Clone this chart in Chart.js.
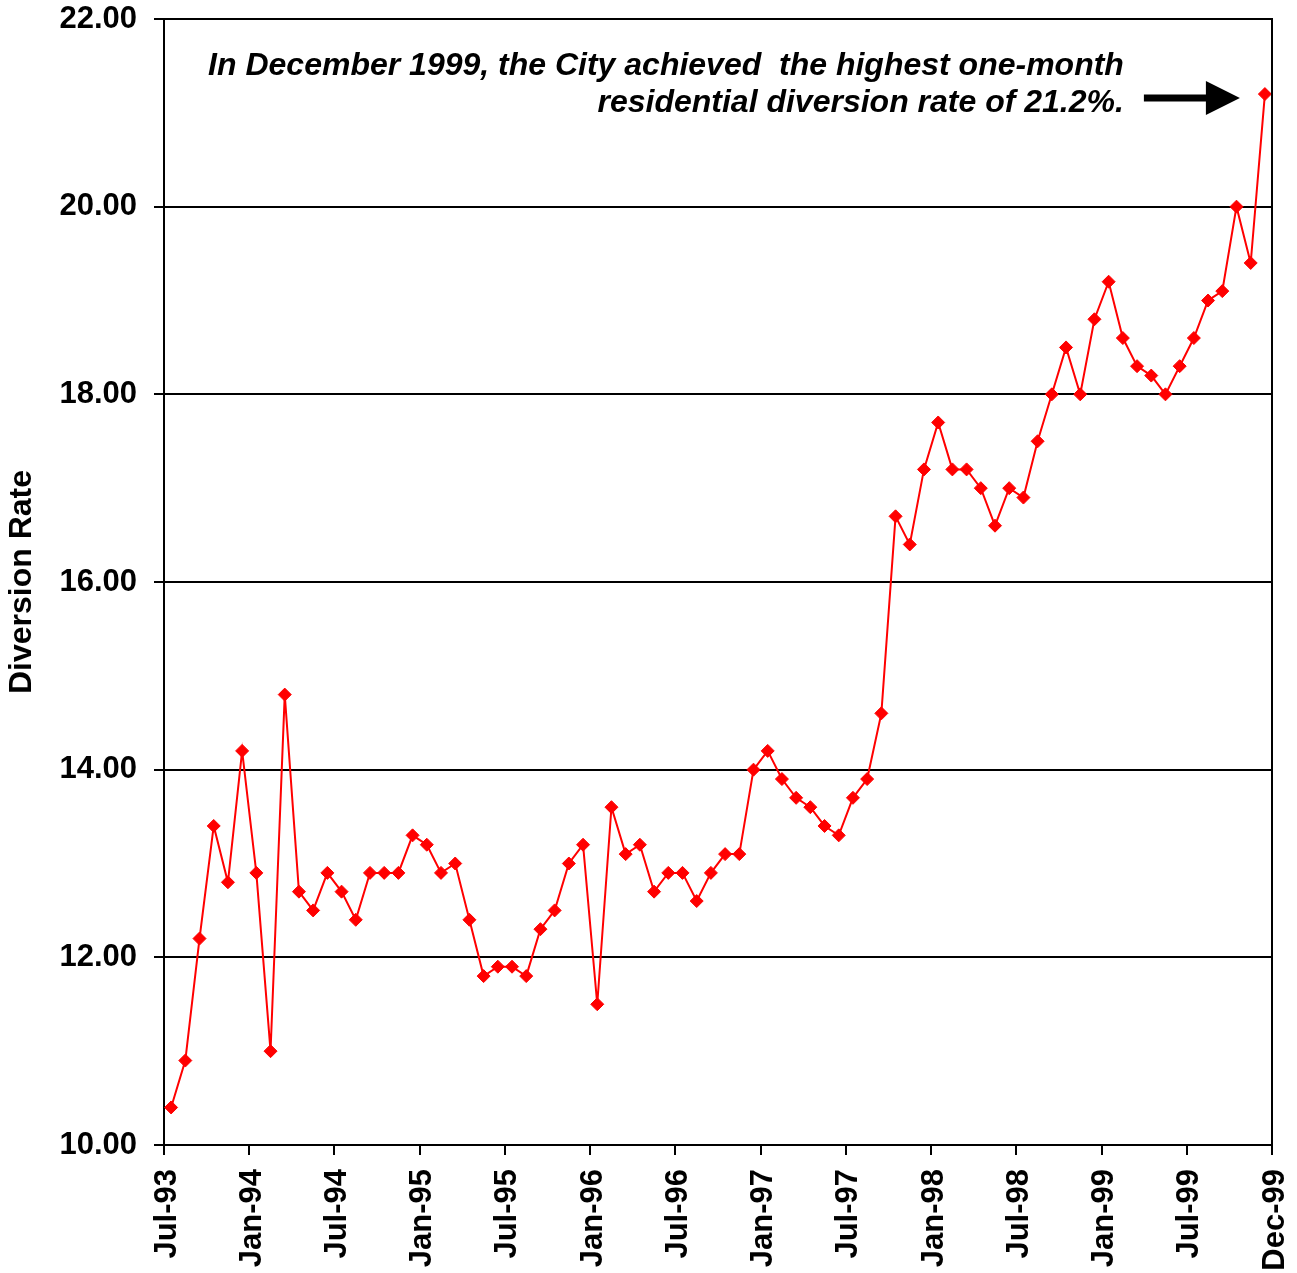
<!DOCTYPE html>
<html lang="en">
<head>
  <meta charset="UTF-8">
  <title>Residential Diversion Rate</title>
  <script src="https://cdn.jsdelivr.net/npm/chart.js"></script>
  <style>
    html, body { margin: 0; padding: 0; background: #fff; }
    canvas { display: block; }
  </style>
</head>
<body>
<canvas id="rateChart" width="1297" height="1273"></canvas>
<script>
  // monthly categories, Jul-93 .. Dec-99
  const monthNames = ['Jan', 'Feb', 'Mar', 'Apr', 'May', 'Jun', 'Jul', 'Aug', 'Sep', 'Oct', 'Nov', 'Dec'];
  const months = [];
  for (let y = 93; y <= 99; y++) {
    for (let m = (y === 93 ? 6 : 0); m < 12; m++) months.push(monthNames[m] + '-' + y);
  }

  // residential diversion rate (%)
  const rates = [
    10.4, 10.9, 12.2, 13.4, 12.8, 14.2,
    12.9, 11.0, 14.8, 12.7, 12.5, 12.9, 12.7, 12.4, 12.9, 12.9, 12.9, 13.3,
    13.2, 12.9, 13.0, 12.4, 11.8, 11.9, 11.9, 11.8, 12.3, 12.5, 13.0, 13.2,
    11.5, 13.6, 13.1, 13.2, 12.7, 12.9, 12.9, 12.6, 12.9, 13.1, 13.1, 14.0,
    14.2, 13.9, 13.7, 13.6, 13.4, 13.3, 13.7, 13.9, 14.6, 16.7, 16.4, 17.2,
    17.7, 17.2, 17.2, 17.0, 16.6, 17.0, 16.9, 17.5, 18.0, 18.5, 18.0, 18.8,
    19.2, 18.6, 18.3, 18.2, 18.0, 18.3, 18.6, 19.0, 19.1, 20.0, 19.4, 21.2
  ];

  const tickLabels = ['Jul-93', 'Jan-94', 'Jul-94', 'Jan-95', 'Jul-95', 'Jan-96', 'Jul-96',
    'Jan-97', 'Jul-97', 'Jan-98', 'Jul-98', 'Jan-99', 'Jul-99', 'Dec-99'];

  const noteLines = ['In December 1999, the City achieved  the highest one-month',
    'residential diversion rate of 21.2%.'];

  Chart.defaults.font.family = "'Liberation Sans', Arial, sans-serif";
  Chart.defaults.color = '#000';

  // right frame line + callout text and arrow
  const notePlugin = {
    id: 'note',
    afterDraw(chart) {
      const {ctx, chartArea, scales} = chart;
      ctx.save();
      ctx.strokeStyle = '#000';
      ctx.lineWidth = 2;
      ctx.beginPath();
      ctx.moveTo(chartArea.right, chartArea.top - 1);
      ctx.lineTo(chartArea.right, chartArea.bottom + 1);
      ctx.stroke();

      const last = rates.length - 1;
      const px = scales.x.getPixelForValue(last);
      const py = scales.y.getPixelForValue(rates[last]);
      const tipX = px - 25, tipY = py + 4;

      ctx.fillStyle = '#000';
      ctx.beginPath();
      ctx.moveTo(tipX, tipY);
      ctx.lineTo(tipX - 34, tipY - 17);
      ctx.lineTo(tipX - 34, tipY - 3.5);
      ctx.lineTo(tipX - 96, tipY - 3.5);
      ctx.lineTo(tipX - 96, tipY + 3.5);
      ctx.lineTo(tipX - 34, tipY + 3.5);
      ctx.lineTo(tipX - 34, tipY + 17);
      ctx.closePath();
      ctx.fill();

      ctx.font = "italic bold 32px 'Liberation Sans', Arial, sans-serif";
      ctx.textAlign = 'right';
      ctx.textBaseline = 'alphabetic';
      ctx.fillText(noteLines[0], tipX - 116, tipY - 23);
      ctx.fillText(noteLines[1], tipX - 116, tipY + 14);
      ctx.restore();
    }
  };

  const ctx = document.getElementById('rateChart').getContext('2d');
  const chart = new Chart(ctx, {
    type: 'line',
    data: {
      labels: months,
      datasets: [{
        label: 'Diversion Rate',
        data: rates.map((v, i) => ({x: i, y: v})),
        borderColor: '#ff0000',
        backgroundColor: '#ff0000',
        borderWidth: 2,
        pointStyle: 'rectRot',
        pointRadius: 6.5,
        pointBorderWidth: 1,
        pointBackgroundColor: '#ff0000',
        pointBorderColor: '#ff0000',
        tension: 0,
        fill: false
      }]
    },
    options: {
      responsive: false,
      animation: false,
      devicePixelRatio: 1,
      layout: { padding: { top: 19, right: 25, left: 0, bottom: 0 } },
      plugins: {
        legend: { display: false },
        tooltip: { enabled: false }
      },
      scales: {
        x: {
          type: 'linear',
          min: -0.5,
          max: rates.length - 0.5,
          afterBuildTicks: s => {
            s.ticks = tickLabels.map((t, k) => ({value: k * 6 - 0.5}));
          },
          afterFit: s => {
            s.height = 128;
            s.paddingLeft = 0;
            s.paddingRight = 0;
          },
          ticks: {
            autoSkip: false,
            minRotation: 90,
            maxRotation: 90,
            padding: 14,
            labelOffset: 3,
            font: { size: 31, weight: 'bold' },
            callback: (v, i) => tickLabels[i]
          },
          grid: {
            drawOnChartArea: false,
            drawTicks: true,
            tickLength: 10,
            color: '#000',
            lineWidth: 2
          },
          border: { display: true, color: '#000', width: 2 }
        },
        y: {
          min: 10,
          max: 22,
          afterFit: s => {
            s.width = 164;
            s.paddingTop = 0;
            s.paddingBottom = 0;
          },
          ticks: {
            stepSize: 2,
            padding: 17,
            font: { size: 31, weight: 'bold' },
            callback: v => v.toFixed(2)
          },
          grid: {
            color: '#000',
            lineWidth: 2,
            tickLength: 10
          },
          border: { display: true, color: '#000', width: 2 },
          title: {
            display: true,
            text: 'Diversion Rate',
            font: { size: 32, weight: 'bold' },
            padding: { top: 3, bottom: 0 }
          }
        }
      }
    },
    plugins: [notePlugin]
  });
</script>
</body>
</html>
